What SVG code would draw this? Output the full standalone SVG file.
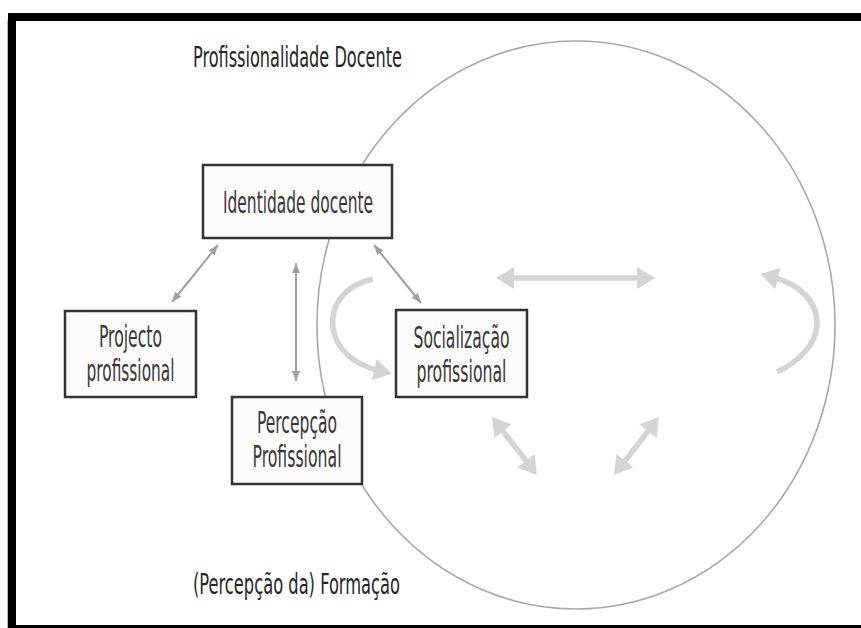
<svg xmlns="http://www.w3.org/2000/svg" width="861" height="628" viewBox="0 0 861 628">
<defs>
<style>
.box{fill:#fdfcfa;stroke:#333;stroke-width:2.5}
.t{font-family:"Liberation Sans Narrow","DejaVu Sans Condensed","Liberation Sans",sans-serif;fill:#383838;font-size:30px;text-anchor:middle}
.title{font-family:"Liberation Sans Narrow","DejaVu Sans Condensed","Liberation Sans",sans-serif;fill:#262626;font-size:28px}
.thin{stroke:#a0a0a0;stroke-width:2;fill:none;marker-start:url(#ah);marker-end:url(#ah)}
.thick{stroke:#d4d4d4;stroke-width:5.5;fill:none}
</style>
<marker id="ah" viewBox="0 0 10 8" refX="10" refY="4" markerWidth="10" markerHeight="8" markerUnits="userSpaceOnUse" orient="auto-start-reverse">
<path d="M0,0 L10,4 L0,8 z" fill="#a0a0a0"/>
</marker>
<marker id="big" viewBox="0 0 18 22" refX="6" refY="11" markerWidth="18" markerHeight="22" markerUnits="userSpaceOnUse" orient="auto-start-reverse">
<path d="M0,0 L18,11 L0,22 z" fill="#d4d4d4"/>
</marker>
</defs>
<rect x="0" y="0" width="861" height="628" fill="#fff"/>
<rect x="12" y="17" width="880" height="612" fill="#fff" stroke="#000" stroke-width="8"/>
<line x1="7.5" y1="20" x2="7.5" y2="628" stroke="#bbb" stroke-width="1"/>

<ellipse id="circle" cx="576" cy="325" rx="259" ry="284" fill="none" stroke="#a8a8a8" stroke-width="1.6"/>

<text class="title" x="193" y="67" textLength="209" lengthAdjust="spacingAndGlyphs">Profissionalidade Docente</text>
<text class="title" x="193" y="594" textLength="207" lengthAdjust="spacingAndGlyphs">(Percepção da) Formação</text>

<g id="connectors">
<line class="thin" x1="218" y1="245" x2="172" y2="302"/>
<line class="thin" x1="374" y1="245" x2="421" y2="303"/>
<line class="thin" x1="296" y1="263" x2="296" y2="381"/>
<line class="thick" x1="508" y1="278" x2="643" y2="278" marker-start="url(#big)" marker-end="url(#big)"/>
<line class="thick" x1="499.4" y1="426.5" x2="529.6" y2="465.5" marker-start="url(#big)" marker-end="url(#big)"/>
<line class="thick" x1="651.6" y1="426.5" x2="621.4" y2="465.5" marker-start="url(#big)" marker-end="url(#big)"/>
<path class="thick" d="M373,279 C345,285 330,305 333,328 C336,350 355,365 380,371" marker-end="url(#big)"/>
<path class="thick" d="M777,372 C798,362 816,345 817,325 C818,302 800,284 772,277" marker-end="url(#big)"/>
</g>

<g id="identidade">
<rect class="box" x="203" y="165" width="189" height="73"/>
<text class="t" x="298" y="213" textLength="150" lengthAdjust="spacingAndGlyphs">Identidade docente</text>
</g>
<g id="projecto">
<rect class="box" x="65" y="311" width="131" height="86"/>
<text class="t" x="130.5" y="347" textLength="63" lengthAdjust="spacingAndGlyphs">Projecto</text>
<text class="t" x="130.5" y="381" textLength="88" lengthAdjust="spacingAndGlyphs">profissional</text>
</g>
<g id="socializacao">
<rect class="box" x="396" y="310" width="131" height="87"/>
<text class="t" x="461.5" y="348" textLength="96" lengthAdjust="spacingAndGlyphs">Socialização</text>
<text class="t" x="461.5" y="382" textLength="90" lengthAdjust="spacingAndGlyphs">profissional</text>
</g>
<g id="percepcao">
<rect class="box" x="232" y="397" width="130" height="87"/>
<text class="t" x="297" y="433" textLength="80" lengthAdjust="spacingAndGlyphs">Percepção</text>
<text class="t" x="297" y="467" textLength="89" lengthAdjust="spacingAndGlyphs">Profissional</text>
</g>
</svg>
